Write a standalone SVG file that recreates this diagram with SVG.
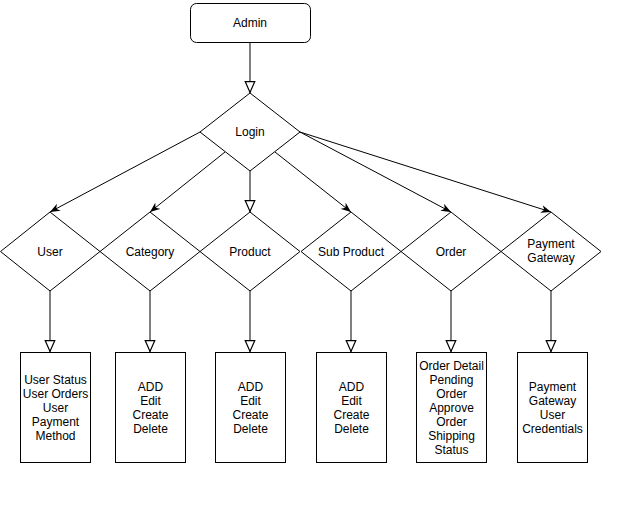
<svg xmlns="http://www.w3.org/2000/svg" width="634" height="509" viewBox="0 0 634 509">
<style>
.shape{fill:#fff;stroke:#000;stroke-width:1}
.edge{fill:none;stroke:#000;stroke-width:1}
text{font-family:"Liberation Sans",Arial,sans-serif;font-size:12px;fill:#000;text-anchor:middle}
</style>
<defs>
<marker id="block" markerUnits="userSpaceOnUse" markerWidth="12" markerHeight="12" viewBox="0 0 10 9" refX="10" refY="4.5" orient="auto">
<path d="M0.5,0.5 L9.5,4.5 L0.5,8.5 Z" fill="#fff" stroke="#000" stroke-width="1"/>
</marker>
<marker id="classic" markerUnits="userSpaceOnUse" markerWidth="10" markerHeight="8" viewBox="0 0 10 8" refX="10" refY="4" orient="auto">
<path d="M0,0 L10,4 L0,8 L3,4 Z" fill="#000"/>
</marker>
</defs>
<g id="connectors">
<line class="edge" x1="250" y1="42" x2="250" y2="93" marker-end="url(#block)"/>
<line class="edge" x1="200" y1="132" x2="50" y2="212" marker-end="url(#classic)"/>
<line class="edge" x1="225" y1="152" x2="150" y2="212" marker-end="url(#classic)"/>
<line class="edge" x1="250" y1="171" x2="250" y2="212" marker-end="url(#block)"/>
<line class="edge" x1="275" y1="152" x2="351" y2="212" marker-end="url(#classic)"/>
<line class="edge" x1="300" y1="132" x2="451" y2="212" marker-end="url(#classic)"/>
<line class="edge" x1="300" y1="132" x2="551" y2="212" marker-end="url(#classic)"/>
<line class="edge" x1="50" y1="291" x2="50" y2="352" marker-end="url(#block)"/>
<line class="edge" x1="150" y1="291" x2="150" y2="352" marker-end="url(#block)"/>
<line class="edge" x1="250" y1="291" x2="250" y2="352" marker-end="url(#block)"/>
<line class="edge" x1="351" y1="291" x2="351" y2="352" marker-end="url(#block)"/>
<line class="edge" x1="451" y1="291" x2="451" y2="352" marker-end="url(#block)"/>
<line class="edge" x1="551" y1="291" x2="551" y2="352" marker-end="url(#block)"/>
</g>
<g id="admin">
<rect class="shape" x="190.5" y="3.5" width="120" height="39" rx="6"/>
<text x="250" y="27">Admin</text>
</g>
<g id="login">
<path class="shape" d="M250,93 L300,132 L250,171 L200,132 Z"/>
<text x="250" y="136">Login</text>
</g>
<g id="user">
<path class="shape" d="M50,212 L100,251.5 L50,291 L0.5,251.5 Z"/>
<text x="50" y="255.5">User</text>
</g>
<g id="category">
<path class="shape" d="M150,212 L200,251.5 L150,291 L100,251.5 Z"/>
<text x="150" y="255.5">Category</text>
</g>
<g id="product">
<path class="shape" d="M250,212 L300,251.5 L250,291 L200,251.5 Z"/>
<text x="250" y="255.5">Product</text>
</g>
<g id="subproduct">
<path class="shape" d="M351,212 L401,251.5 L351,291 L301,251.5 Z"/>
<text x="351" y="255.5">Sub Product</text>
</g>
<g id="order">
<path class="shape" d="M451,212 L501,251.5 L451,291 L401,251.5 Z"/>
<text x="451" y="255.5">Order</text>
</g>
<g id="payment">
<path class="shape" d="M551,212 L601,251.5 L551,291 L501,251.5 Z"/>
<text x="551" y="248">Payment</text>
<text x="551" y="262">Gateway</text>
</g>
<g id="user-box">
<rect class="shape" x="20.5" y="352.5" width="70" height="110"/>
<text x="55.5" y="384">User Status</text>
<text x="55.5" y="398">User Orders</text>
<text x="55.5" y="412">User</text>
<text x="55.5" y="426">Payment</text>
<text x="55.5" y="440">Method</text>
</g>
<g id="category-box">
<rect class="shape" x="115.5" y="352.5" width="70" height="110"/>
<text x="150.5" y="391">ADD</text>
<text x="150.5" y="405">Edit</text>
<text x="150.5" y="419">Create</text>
<text x="150.5" y="433">Delete</text>
</g>
<g id="product-box">
<rect class="shape" x="215.5" y="352.5" width="70" height="110"/>
<text x="250.5" y="391">ADD</text>
<text x="250.5" y="405">Edit</text>
<text x="250.5" y="419">Create</text>
<text x="250.5" y="433">Delete</text>
</g>
<g id="subproduct-box">
<rect class="shape" x="316.5" y="352.5" width="70" height="110"/>
<text x="351.5" y="391">ADD</text>
<text x="351.5" y="405">Edit</text>
<text x="351.5" y="419">Create</text>
<text x="351.5" y="433">Delete</text>
</g>
<g id="order-box">
<rect class="shape" x="416.5" y="352.5" width="70" height="110"/>
<text x="451.5" y="370">Order Detail</text>
<text x="451.5" y="384">Pending</text>
<text x="451.5" y="398">Order</text>
<text x="451.5" y="412">Approve</text>
<text x="451.5" y="426">Order</text>
<text x="451.5" y="440">Shipping</text>
<text x="451.5" y="454">Status</text>
</g>
<g id="payment-box">
<rect class="shape" x="517.5" y="352.5" width="70" height="110"/>
<text x="552.5" y="391">Payment</text>
<text x="552.5" y="405">Gateway</text>
<text x="552.5" y="419">User</text>
<text x="552.5" y="433">Credentials</text>
</g>
</svg>
